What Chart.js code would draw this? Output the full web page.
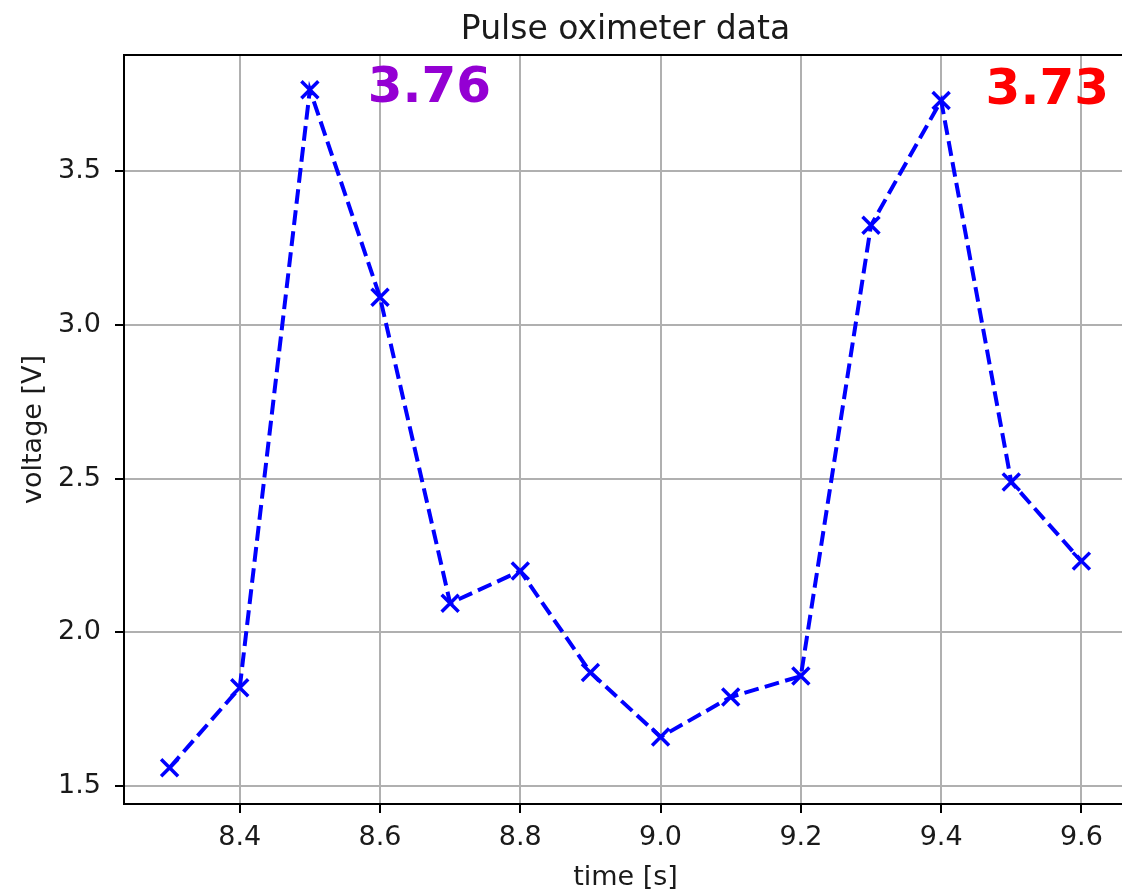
<!DOCTYPE html>
<html>
<head>
<meta charset="utf-8">
<script src="https://cdn.jsdelivr.net/npm/chart.js@4.4.1/dist/chart.umd.min.js"></script>
<style>
  html, body { margin: 0; padding: 0; background: #fff; overflow: hidden; }
  #wrap { width: 1140px; height: 891px; }
</style>
</head>
<body>
<div id="wrap"><canvas id="chart" width="1140" height="891"></canvas></div>
<script>
// sample times [s] and measured voltages [V]
const times = [8.3, 8.4, 8.5, 8.6, 8.7, 8.8, 8.9, 9.0, 9.1, 9.2, 9.3, 9.4, 9.5, 9.6];
const voltages = [1.56, 1.82, 3.765, 3.09, 2.095, 2.20, 1.87, 1.66, 1.79, 1.858, 3.324, 3.73, 2.489, 2.232];

const xTicks = [8.4, 8.6, 8.8, 9.0, 9.2, 9.4, 9.6];
const yTicks = [1.5, 2.0, 2.5, 3.0, 3.5];

// peak value labels
const peakLabels = ['3.76', '3.73'];
const peakColors = ['#9400d3', '#ff0000'];

const FONT = '"DejaVu Sans", sans-serif';
const tickFont = { family: FONT, size: 27 };

// title, top/right spines and the two peak labels
const decorPlugin = {
  id: 'decor',
  afterDraw(chart, args, opts) {
    const { ctx, chartArea: a, scales } = chart;
    ctx.save();
    ctx.strokeStyle = '#000';
    ctx.lineWidth = 2;
    ctx.strokeRect(a.left, a.top, a.right - a.left, a.bottom - a.top);

    ctx.fillStyle = '#1a1a1a';
    ctx.font = '33px ' + FONT;
    ctx.textAlign = 'center';
    ctx.textBaseline = 'alphabetic';
    ctx.fillText(opts.title, (a.left + a.right) / 2, a.top - 16);

    ctx.font = 'bold 50px ' + FONT;
    ctx.textAlign = 'left';
    peakLabels.forEach((txt, i) => {
      const pos = opts.labelPos[i];
      ctx.fillStyle = peakColors[i];
      ctx.fillText(txt, scales.x.getPixelForValue(pos[0]), scales.y.getPixelForValue(pos[1]));
    });
    ctx.restore();
  }
};

const gridOpts = {
  color: '#b0b0b0',
  lineWidth: 2,
  tickLength: 9,
  tickColor: '#000',
  tickWidth: 2
};

new Chart(document.getElementById('chart'), {
  type: 'line',
  data: {
    datasets: [{
      data: times.map((t, i) => ({ x: t, y: voltages[i] })),
      borderColor: '#0000ff',
      borderWidth: 4,
      borderDash: [14.8, 6.4],
      fill: false,
      tension: 0,
      pointStyle: 'crossRot',
      pointRadius: 12,
      pointBorderWidth: 3.5,
      pointBorderColor: '#0000ff',
      pointBackgroundColor: '#0000ff'
    }]
  },
  options: {
    responsive: false,
    animation: false,
    layout: { padding: { top: 55, right: 13, left: 0, bottom: 0 }, autoPadding: false },
    plugins: {
      legend: { display: false },
      tooltip: { enabled: false },
      decor: {
        title: 'Pulse oximeter data',
        labelPos: [[8.5825, 3.724], [9.4634, 3.718]]
      }
    },
    scales: {
      x: {
        type: 'linear',
        min: 8.235,
        max: 9.665,
        afterBuildTicks: s => { s.ticks = xTicks.map(v => ({ value: v })); },
        afterFit: s => { s.height = 87; },
        ticks: {
          font: tickFont,
          color: '#1a1a1a',
          padding: 9,
          maxRotation: 0,
          autoSkip: false,
          callback: v => Number(v).toFixed(1)
        },
        grid: gridOpts,
        border: { display: true, color: '#000', width: 2 },
        title: {
          display: true,
          text: 'time [s]',
          color: '#1a1a1a',
          font: { family: FONT, size: 27, lineHeight: 1 },
          padding: { top: 0, bottom: 0 }
        }
      },
      y: {
        type: 'linear',
        min: 1.442,
        max: 3.878,
        afterBuildTicks: s => { s.ticks = yTicks.map(v => ({ value: v })); },
        afterFit: s => { s.width = 124; },
        ticks: {
          font: tickFont,
          color: '#1a1a1a',
          padding: 14,
          autoSkip: false,
          callback: v => Number(v).toFixed(1)
        },
        grid: gridOpts,
        border: { display: true, color: '#000', width: 2 },
        title: {
          display: true,
          text: 'voltage [V]',
          color: '#1a1a1a',
          font: { family: FONT, size: 27, lineHeight: 1 },
          padding: { top: 20, bottom: 0 }
        }
      }
    }
  },
  plugins: [decorPlugin]
});
</script>
</body>
</html>
